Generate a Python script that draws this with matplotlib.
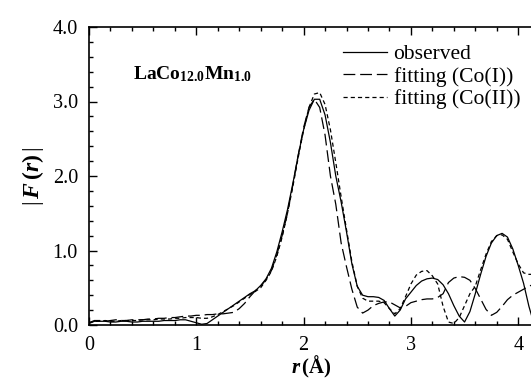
import numpy as np
import matplotlib
matplotlib.use("Agg")
import matplotlib.pyplot as plt
from matplotlib.ticker import MultipleLocator


# =========================
# DATA
# =========================

r = np.round(np.arange(0.0, 4.16, 0.05), 2)

observed = [
    0.02, 0.05, 0.05, 0.05, 0.04, 0.04, 0.05, 0.05, 0.04, 0.04,
    0.05, 0.05, 0.05, 0.05, 0.06, 0.06, 0.06, 0.07, 0.07, 0.05,
    0.03, 0.01, 0.02, 0.07, 0.12, 0.17, 0.22, 0.27, 0.32, 0.37,
    0.42, 0.46, 0.53, 0.62, 0.76, 0.98, 1.25, 1.55, 1.90, 2.28,
    2.62, 2.88, 3.03, 3.03, 2.82, 2.45, 2.00, 1.65, 1.25, 0.82,
    0.52, 0.40, 0.38, 0.38, 0.37, 0.33, 0.22, 0.12, 0.20, 0.35,
    0.44, 0.53, 0.59, 0.62, 0.63, 0.61, 0.54, 0.42, 0.26, 0.12,
    0.04, 0.18, 0.42, 0.68, 0.92, 1.10, 1.20, 1.23, 1.18, 1.02,
    0.80, 0.56, 0.25, 0.00,
]

fit_co1 = [
    0.03, 0.06, 0.06, 0.05, 0.06, 0.07, 0.06, 0.06, 0.07, 0.07,
    0.07, 0.08, 0.08, 0.09, 0.09, 0.10, 0.10, 0.11, 0.12, 0.12,
    0.13, 0.13, 0.14, 0.14, 0.15, 0.15, 0.16, 0.17, 0.22, 0.29,
    0.38, 0.46, 0.52, 0.61, 0.73, 0.94, 1.20, 1.50, 1.88, 2.28,
    2.65, 2.92, 3.03, 2.92, 2.55, 2.00, 1.62, 1.10, 0.78, 0.48,
    0.24, 0.16, 0.20, 0.26, 0.29, 0.31, 0.31, 0.27, 0.23, 0.25,
    0.30, 0.32, 0.34, 0.35, 0.35, 0.37, 0.42, 0.57, 0.63, 0.65,
    0.64, 0.60, 0.49, 0.35, 0.21, 0.13, 0.17, 0.25, 0.34, 0.40,
    0.44, 0.48, 0.52, 0.55,
]

fit_co2 = [
    0.03, 0.05, 0.05, 0.06, 0.05, 0.05, 0.06, 0.06, 0.06, 0.06,
    0.07, 0.07, 0.07, 0.08, 0.08, 0.08, 0.09, 0.09, 0.10, 0.10,
    0.10, 0.09, 0.09, 0.11, 0.14, 0.18, 0.22, 0.26, 0.31, 0.36,
    0.41, 0.45, 0.50, 0.60, 0.72, 0.92, 1.18, 1.50, 1.86, 2.25,
    2.62, 2.92, 3.10, 3.12, 2.96, 2.62, 2.18, 1.72, 1.28, 0.85,
    0.52, 0.36, 0.32, 0.32, 0.32, 0.30, 0.22, 0.15, 0.22, 0.38,
    0.55, 0.67, 0.72, 0.73, 0.66, 0.55, 0.25, 0.04, 0.02, 0.10,
    0.26, 0.42, 0.52, 0.74, 0.95, 1.12, 1.20, 1.21, 1.15, 0.98,
    0.82, 0.70, 0.68, 0.68,
]

labels = ["observed", "fitting (Co(I))", "fitting (Co(II))"]
sample = r"$\mathbf{LaCo_{12.0}Mn_{1.0}}$"


# =========================
# STYLE
# =========================

plt.rcParams["font.family"] = ["Liberation Serif", "DejaVu Serif"]
plt.rcParams["mathtext.fontset"] = "custom"
plt.rcParams["mathtext.rm"] = "Liberation Serif"
plt.rcParams["mathtext.it"] = "Liberation Serif:italic:bold"
plt.rcParams["mathtext.bf"] = "Liberation Serif:bold"
plt.rcParams["lines.scale_dashes"] = False

W, H = 531, 379
fig = plt.figure(figsize=(W / 100, H / 100), dpi=100)

# axes box in pixels: left 89, right 533 (just off the picture), top 27, bottom 325
left, right, top, bottom = 89, 533, 27, 325
ax = fig.add_axes([left / W, (H - bottom) / H,
                   (right - left) / W, (bottom - top) / H])

lw = 0.9
ax.plot(r, observed, color="black", lw=lw, label=labels[0])
ax.plot(r, fit_co1, color="black", lw=lw, dashes=(8.5, 3.5), label=labels[1])
ax.plot(r, fit_co2, color="black", lw=lw, dashes=(3.0, 2.2), label=labels[2])

ax.set_xlim(0, (right - left) / 107.3)
ax.set_ylim(0, 4.0)

ax.xaxis.set_major_locator(MultipleLocator(1))
ax.xaxis.set_minor_locator(MultipleLocator(0.2))
ax.yaxis.set_major_locator(MultipleLocator(1))
ax.yaxis.set_minor_locator(MultipleLocator(0.2))
ax.xaxis.set_major_formatter(matplotlib.ticker.FormatStrFormatter("%d"))
ax.yaxis.set_major_formatter(matplotlib.ticker.FormatStrFormatter("%.1f"))

ax.tick_params(which="both", direction="in", top=True, right=False,
               width=1.0, labelsize=14.5, pad=8)
ax.tick_params(which="major", length=5.5)
ax.tick_params(which="minor", length=2.8)

for side in ["left", "bottom", "top"]:
    ax.spines[side].set_linewidth(1.2)
ax.spines["right"].set_visible(False)

ax.set_xlabel(r"$r\,\mathbf{(Å)}$", fontsize=15, labelpad=-1)
ax.set_ylabel(r"$|\,F\,\mathbf{(}r\mathbf{)}\,|$", fontsize=17, labelpad=5)

fig.text(133 / W, (H - 79) / H, sample, fontsize=14,
         ha="left", va="baseline")

leg = ax.legend(loc="upper left", bbox_to_anchor=(343 / W, (H - 44) / H),
                bbox_transform=fig.transFigure, frameon=False, fontsize=15.5,
                handlelength=2.05, handletextpad=0.3, labelspacing=0.12,
                borderpad=0, borderaxespad=0)

fig.savefig("out.png", dpi=100)
